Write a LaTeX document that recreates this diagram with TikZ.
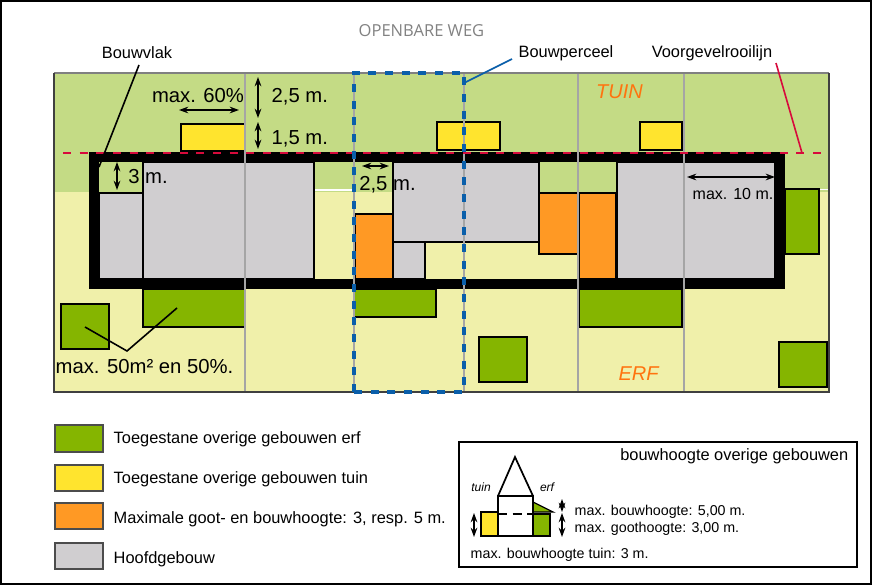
\documentclass[tikz,border=0pt]{standalone}
\usepackage{fontspec}
\setmainfont{Liberation Sans}
\newfontfamily\wegfont{Open Sans}
\usetikzlibrary{arrows.meta, positioning}
\definecolor{tuinGreen}{RGB}{196, 219, 133}
\definecolor{erfYellow}{RGB}{240, 240, 170}
\definecolor{erfGreen}{RGB}{133, 181, 0}
\definecolor{tuinYellow}{RGB}{255, 228, 46}
\definecolor{maxOrange}{RGB}{255, 153, 36}
\definecolor{hoofdGrey}{RGB}{208, 206, 208}
\definecolor{perceelBlue}{RGB}{10, 95, 170}
\definecolor{lijnRed}{RGB}{215, 10, 60}
\definecolor{labelOrange}{RGB}{255, 115, 15}
\definecolor{wegGrey}{RGB}{130, 130, 130}
\definecolor{grensGrey}{RGB}{165, 165, 165}
\tikzset{
    erf/.style={fill=erfGreen, draw=black, line width=1.3pt},
    tuin/.style={fill=tuinYellow, draw=black, line width=1.3pt},
    hoofd/.style={fill=hoofdGrey, draw=black, line width=1.1pt},
    maxh/.style={fill=maxOrange, draw=black, line width=1.1pt},
    grens/.style={draw=grensGrey, line width=1.3pt},
    maat/.style={{Stealth[length=7pt,width=5pt]}-{Stealth[length=7pt,width=5pt]}, line width=1.1pt},
    leader/.style={line width=1.2pt},
    swatch/.style={draw=black!70, line width=1pt},
    big/.style={font=\fontsize{15.2}{18}\selectfont},
    mid/.style={font=\fontsize{12.3}{14}\selectfont},
    small/.style={font=\fontsize{10.7}{13}\selectfont}
}
\begin{document}
\begin{tikzpicture}[x=0.75pt, y=-0.75pt]
    \useasboundingbox (0,0) rectangle (872,585);
    % Outer frame
    \fill[white] (0,0) rectangle (872,585);
    \draw[line width=1.5pt] (1,1) rectangle (871,584);

    % Garden and yard
    \fill[tuinGreen] (54,73) rectangle (829,192);
    \fill[erfYellow] (54,192) rectangle (829,392);
    \fill[white] (315,189) rectangle (355,191);
    \fill[white] (817,189) rectangle (829,190);

    % Main buildings
    \filldraw[hoofd] (99,193) rectangle (143,279);
    \filldraw[hoofd] (143,162) rectangle (314,279);
    \filldraw[hoofd] (393,162) rectangle (539,242);
    \filldraw[hoofd] (393,242) rectangle (425,279);
    \filldraw[hoofd] (617,162) rectangle (775,279);

    % Orange buildings
    \filldraw[maxh] (355,214) rectangle (393,279);
    \filldraw[maxh] (539,193) rectangle (578,254);
    \filldraw[maxh] (579,193) rectangle (616,279);

    % Yard buildings
    \filldraw[erf] (61,304) rectangle (109,349);
    \filldraw[erf] (143,289) rectangle (245,327);
    \filldraw[erf] (354,289) rectangle (436,317);
    \filldraw[erf] (479,337) rectangle (527,382);
    \filldraw[erf] (579,289) rectangle (682,327);
    \filldraw[erf] (779,342) rectangle (827,387);
    \filldraw[erf] (785,189) rectangle (819,254);

    % Garden buildings
    \filldraw[tuin] (181,124) rectangle (245,151);
    \filldraw[tuin] (437,122) rectangle (500,150);
    \filldraw[tuin] (640,122) rectangle (682,150);

    % Building plane
    \draw[line width=7.5pt] (94,157) rectangle (780,284);

    % Plot boundaries
    \draw[grens] (245,73) -- (245,392);
    \draw[grens] (354,73) -- (354,392);
    \draw[grens] (464,73) -- (464,392);
    \draw[grens] (578,73) -- (578,392);
    \draw[grens] (684,73) -- (684,392);
    \draw[draw=black!50, line width=1.2pt] (54,73) -- (829,73);
    \draw[draw=black!75, line width=1.2pt] (829,73) -- (829,392) -- (54,392) -- (54,73);

    % Front building line and plot
    \draw[lijnRed, line width=1.1pt, dash pattern=on 6pt off 6.5pt] (63,153) -- (821,153);
    \draw[perceelBlue, line width=3pt, dash pattern=on 6pt off 6.5pt] (354,392) -- (354,73) -- (464,73) -- (464,392) -- cycle;

    % Texts at the top
    \node[wegGrey, font=\wegfont\fontsize{12.4}{14}\selectfont] (weg) at (421.5,30.5) {OPENBARE WEG};
    \node[mid] (bouwvlak) at (137,53) {Bouwvlak};
    \node[mid] (perceel) at (566,53) {Bouwperceel};
    \node[mid] (rooilijn) at (712,53) {Voorgevelrooilijn};
    \coordinate (vlakend) at (99,167);
    \coordinate (perceelend) at (464,83);
    \coordinate (rooilijnend) at (802,153);
    \draw[leader] (139,65) -- (vlakend);
    \draw[perceelBlue, leader] (512,59) -- (perceelend);
    \draw[lijnRed, leader] (776,63) -- (rooilijnend);

    % Zones
    \node[labelOrange, font=\fontsize{15}{18}\itshape] (tuinlabel) at (619.5,92) {TUIN};
    \node[labelOrange, font=\fontsize{15}{18}\itshape] (erflabel) at (638.5,374) {ERF};

    % Sizes
    \node[big] (zestig) at (198,95.5) {max. 60\%};
    \draw[maat] (179,110) -- (239,110);
    \draw[maat] (258,77) -- (258,118);
    \node[big, anchor=west] (tweehalf) at (267,97) {2,5 m.};
    \draw[maat] (258,122) -- (258,149);
    \node[big, anchor=west] (eenhalf) at (267,139) {1,5 m.};
    \draw[maat] (117,162) -- (117,190);
    \node[big] (drie) at (148,177) {3 m.};
    \draw[maat] (362,166) -- (389,166);
    \node[big] (tweehalfb) at (387.5,185) {2,5 m.};
    \draw[maat] (687,177) -- (775,177);
    \node[font=\fontsize{12}{14}\selectfont] (tien) at (733,194) {max. 10 m.};

    % Fifty percent
    \node[big, anchor=west] (vijftig) at (51,367) {max. 50m² en 50\%.};
    \coordinate (links) at (85,327);
    \coordinate (midden) at (127,351);
    \coordinate (rechts) at (177,308);
    \draw[leader] (links) -- (midden) -- (rechts);

    % Legend
    \filldraw[swatch, fill=erfGreen] (55,425) rectangle (103,452);
    \filldraw[swatch, fill=tuinYellow] (55,465) rectangle (103,491);
    \filldraw[swatch, fill=maxOrange] (55,503) rectangle (103,529);
    \filldraw[swatch, fill=hoofdGrey] (55,543) rectangle (103,569);
    \node[mid, anchor=west] (legerf) at (109,439.5) {Toegestane overige gebouwen erf};
    \node[mid, anchor=west] (legtuin) at (109,479.5) {Toegestane overige gebouwen tuin};
    \node[mid, anchor=west] (legmax) at (109,519.5) {Maximale goot- en bouwhoogte: 3, resp. 5 m.};
    \node[mid, anchor=west] (leghoofd) at (109,559.5) {Hoofdgebouw};

    % Height box
    \draw[line width=1.5pt] (459,442) rectangle (857,567);
    \node[mid, anchor=east] (hoogte) at (853,456) {bouwhoogte overige gebouwen};
    \filldraw[fill=tuinYellow, draw=black, line width=1pt] (481,512) rectangle (498,536);
    \filldraw[fill=erfGreen, draw=black, line width=1pt] (533,514) rectangle (550,536);
    \filldraw[fill=erfGreen, draw=black, line width=1pt] (533,502) -- (553,512) -- (533,512) -- cycle;
    \filldraw[fill=white, draw=black, line width=1.3pt] (498,496) rectangle (533,536);
    \draw[line width=1.3pt] (498,496) -- (515,457) -- (533,496);
    \draw[line width=1.5pt, dash pattern=on 7pt off 4pt] (498,514) -- (533,514);
    \node[font=\fontsize{9}{11}\itshape] (tuintxt) at (481,487) {tuin};
    \node[font=\fontsize{9}{11}\itshape] (erftxt) at (547,487) {erf};
    \draw[maat] (474,513) -- (474,537);
    \draw[maat] (562,499) -- (562,512);
    \draw[maat] (562,513) -- (562,537);
    \node[small, anchor=west] (bouwmax) at (570,512) {max. bouwhoogte: 5,00 m.};
    \node[small, anchor=west] (gootmax) at (570,529) {max. goothoogte: 3,00 m.};
    \node[small, anchor=west] (tuinmax) at (466,554.5) {max. bouwhoogte tuin: 3 m.};
\end{tikzpicture}
\end{document}
